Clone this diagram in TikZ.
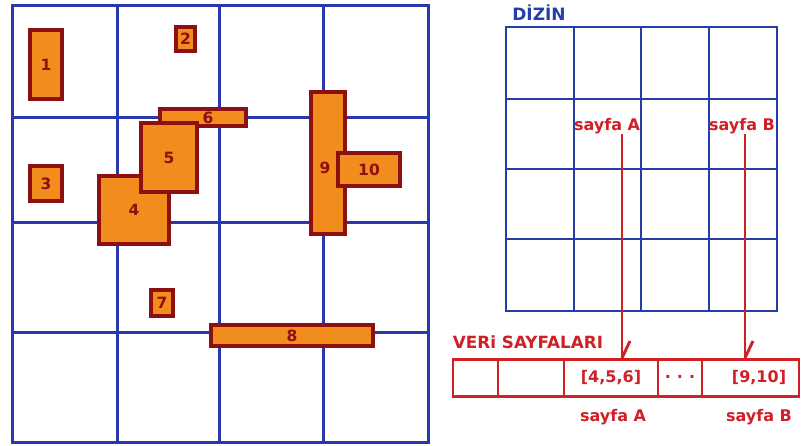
\documentclass[tikz,border=0pt]{standalone}
\usepackage{fontspec}
\setmainfont{DejaVu Sans}
\definecolor{gridblue}{HTML}{2A38B0}
\definecolor{dirblue}{HTML}{2440A8}
\definecolor{boxfill}{HTML}{F28C1C}
\definecolor{boxedge}{HTML}{8C1010}
\definecolor{pagered}{HTML}{CF2027}
\tikzset{
  objbox/.style={draw=boxedge, fill=boxfill, line width=3.8pt, inner sep=0pt},
  objlbl/.style={text=boxedge, font=\bfseries\fontsize{15.5}{15.5}\selectfont, inner sep=0pt},
  redtxt/.style={text=pagered, font=\bfseries\fontsize{16}{16}\selectfont, inner sep=0pt},
  pagecell/.style={draw=pagered, line width=2.9pt, inner sep=0pt, minimum height=37.1pt},
  link/.style={draw=pagered, line width=2.9pt},
}
% rectangle object given by its outer corners: name, x1, y1, x2, y2, text
\newcommand{\objrect}[6]{%
  \pgfmathsetmacro{\ow}{#4-#2-3.8}\pgfmathsetmacro{\oh}{#5-#3-3.8}%
  \node[objbox, minimum width=\ow pt, minimum height=\oh pt, objlbl] (#1) at ({(#2+#4)/2},{(#3+#5)/2}) {#6};}
\begin{document}
\begin{tikzpicture}[x=1pt,y=-1pt]
\useasboundingbox (0,0) rectangle (803,446);
\fill[white] (0,0) rectangle (803,446);

% space partition grid
\draw[gridblue, line width=3pt] (12,6) rectangle (428,442);
\foreach \gx in {117,219,323} \draw[gridblue, line width=3pt] (\gx,6) -- (\gx,442);
\foreach \gy in {118,223,332} \draw[gridblue, line width=3pt] (12,\gy) -- (428,\gy);

% spatial objects
\objrect{r1}{28}{28}{64}{101}{1}
\objrect{r2}{174}{25}{197}{53}{2}
\objrect{r3}{28}{164}{64}{203}{3}
\objrect{r6}{158}{107}{248}{128}{}
\node[objlbl] (l6) at (208,118) {6};
\objrect{r4}{97}{174}{171}{246}{4}
\objrect{r5}{139}{121}{199}{194}{5}
\objrect{r9}{309}{90}{347}{236}{}
\node[objlbl] (l9) at (325,168) {9};
\objrect{r10}{336}{151}{402}{188}{10}
\objrect{r7}{149}{288}{175}{318}{7}
\objrect{r8}{209}{323}{375}{348}{8}

% directory
\node[text=dirblue, font=\bfseries\fontsize{17}{17}\selectfont, inner sep=0pt] (dir) at (539,13) {DİZİN};
\draw[dirblue, line width=1.9pt] (506,27) rectangle (777,311);
\foreach \dx in {574,641,709} \draw[dirblue, line width=1.9pt] (\dx,27) -- (\dx,311);
\foreach \dy in {99,169,239} \draw[dirblue, line width=1.9pt] (506,\dy) -- (777,\dy);

\node[redtxt] (pA) at (607,126) {sayfa A};
\node[redtxt] (pB) at (742,126) {sayfa B};
\coordinate (aTop) at (622,134);
\coordinate (bTop) at (745,134);

% data pages
\node[redtxt, font=\bfseries\fontsize{16.8}{16.8}\selectfont] (veri) at (528,342) {VERi SAYFALARI};
\node[pagecell, minimum width=45pt] (c1) at (475.5,378) {};
\node[pagecell, minimum width=66pt] (c2) at (531,378) {};
\node[pagecell, minimum width=94pt] (c3) at (611,378) {};
\node[pagecell, minimum width=44pt] (c4) at (680,378) {};
\node[pagecell, minimum width=97pt] (c5) at (750.5,378) {};
\node[redtxt] (t3) at (611,378) {[4,5,6]};
\node[redtxt] (t4) at (680,379) {·\hspace{6pt}·\hspace{6pt}·};
\node[redtxt] (t5) at (759,378) {[9,10]};
\node[redtxt] (bA) at (613,417) {sayfa A};
\node[redtxt] (bB) at (759,417) {sayfa B};

% pointers from directory cells to pages
\coordinate (aEnd) at (aTop |- c3.north);
\coordinate (bEnd) at (bTop |- c5.north);
\draw[link] (aTop) -- (aEnd);
\draw[link] (aEnd) -- ++(8,-17);
\draw[link] (bTop) -- (bEnd);
\draw[link] (bEnd) -- ++(8,-17);
\end{tikzpicture}
\end{document}
